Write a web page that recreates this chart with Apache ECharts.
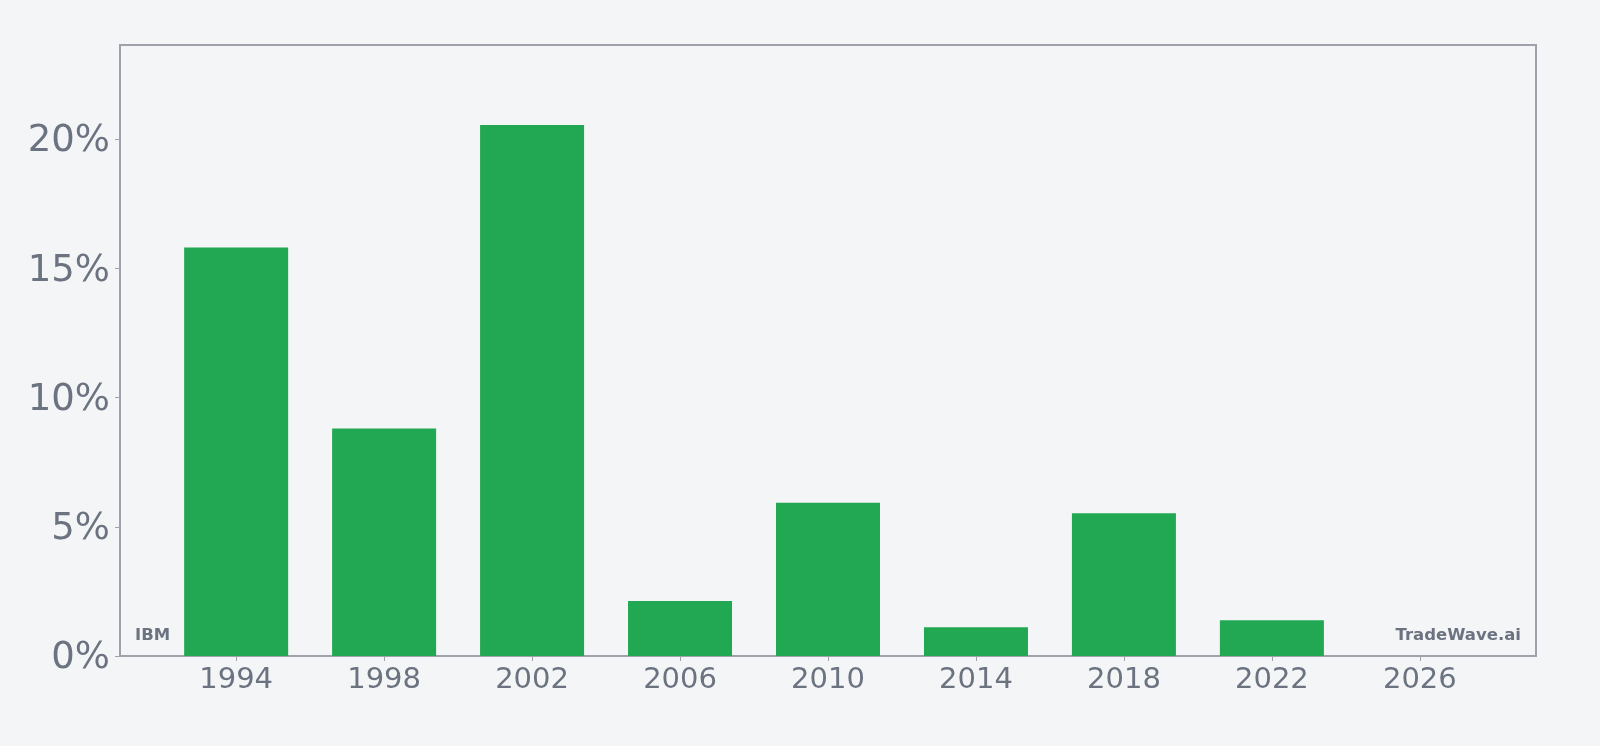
<!DOCTYPE html>
<html>
<head>
<meta charset="utf-8">
<script src="https://cdn.jsdelivr.net/npm/echarts@6/dist/echarts.min.js"></script>
<style>
  html, body { margin: 0; padding: 0; background: #f4f5f7; }
  #chart { width: 1600px; height: 746px; }
</style>
</head>
<body>
<div id="chart"></div>
<script>
// yearly return bars (percent)
const years = [1994, 1998, 2002, 2006, 2010, 2014, 2018, 2022, 2026];
const values = [15.81, 8.81, 20.55, 2.13, 5.93, 1.11, 5.53, 1.38, 0];
const yTicks = [0, 5, 10, 15, 20];
const xRange = [1990.86, 2029.14];
const yMax = 23.65;

const textGray = '#6b7280';
const lineGray = '#9fa1ab';

var myChart = echarts.init(document.getElementById('chart'));
var option = {
    backgroundColor: '#f4f5f7',
    animation: false,
    grid: {
        left: 120,
        right: 64,
        top: 45,
        bottom: 90,
        show: true,
        borderColor: lineGray,
        borderWidth: 2,
        backgroundColor: 'transparent',
    },
    xAxis: {
        type: 'value',
        min: xRange[0],
        max: xRange[1],
        splitLine: { show: false },
        axisLine: { show: true, onZero: false, lineStyle: { color: lineGray, width: 2 } },
        axisTick: { show: true, length: 5, customValues: years, lineStyle: { color: lineGray } },
        axisLabel: {
            customValues: years,
            margin: 10,
            fontSize: 29,
            color: textGray,
            fontFamily: 'DejaVu Sans',
            formatter: (v) => String(v),
        },
    },
    yAxis: {
        type: 'value',
        min: 0,
        max: yMax,
        splitLine: { show: false },
        axisLine: { show: true, lineStyle: { color: lineGray, width: 2 } },
        axisTick: { show: true, length: 5, customValues: yTicks, lineStyle: { color: lineGray } },
        axisLabel: {
            customValues: yTicks,
            margin: 10,
            fontSize: 37,
            color: textGray,
            fontFamily: 'DejaVu Sans',
            verticalAlign: 'top',
            lineHeight: 5,
            formatter: '{value}%',
        },
    },
    series: [{
        type: 'bar',
        barWidth: 104,
        itemStyle: { color: '#22a752' },
        data: years.map((y, i) => [y, values[i]]),
    }],
    graphic: [
        {
            type: 'text',
            left: 135,
            top: 627,
            style: { text: 'IBM', fill: textGray, font: 'bold 16.5px "DejaVu Sans"' },
        },
        {
            type: 'text',
            right: 79,
            top: 627,
            style: { text: 'TradeWave.ai', fill: textGray, font: 'bold 16.5px "DejaVu Sans"' },
        },
    ],
};
myChart.setOption(option);
</script>
</body>
</html>
